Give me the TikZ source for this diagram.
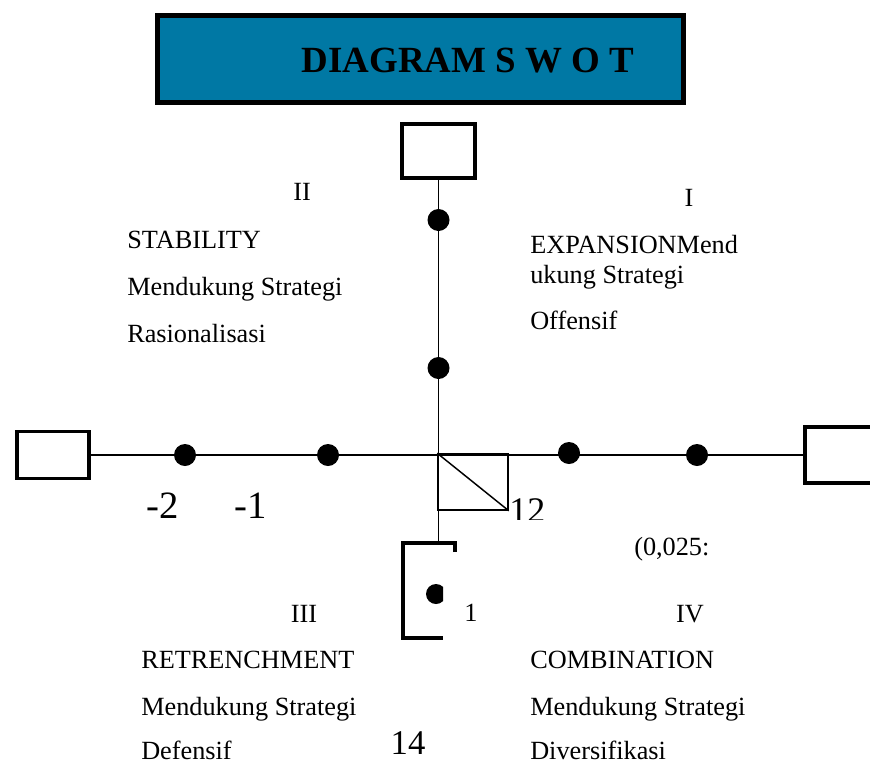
\documentclass[tikz,border=0pt]{standalone}
\usepackage{fontspec}
\setmainfont{Liberation Serif}
\definecolor{swotblue}{RGB}{0,120,164}
\begin{document}
\begin{tikzpicture}[x=0.75pt,y=-0.75pt]
    \tikzstyle{box} = [rectangle, draw, line width=2.6pt, inner sep=0pt]
    \tikzstyle{dot} = [circle, fill=black, minimum size=16.5pt, inner sep=0pt]
    \tikzstyle{txt} = [anchor=base west, inner sep=0pt, font=\fontsize{19.7}{24}\selectfont]
    \tikzstyle{quad} = [anchor=base, inner sep=0pt, font=\fontsize{19.7}{24}\selectfont]
    \tikzstyle{big} = [anchor=base, inner sep=0pt, font=\fontsize{29}{34}\selectfont]

    \useasboundingbox (0,0) rectangle (870,764);

      \draw
        (420.5, 59) node[box, fill=swotblue, line width=3.7pt, minimum width=394.5pt, minimum height=65.25pt] (title){}
        (468, 72) node[anchor=base, inner sep=0pt, font=\fontsize{27.7}{32}\selectfont\bfseries] (titletext){DIAGRAM S W O T}
        (438.5, 151) node[box, minimum width=54.75pt, minimum height=40.5pt] (top){}
        (53, 455) node[box, minimum width=54pt, minimum height=35.25pt] (left){}
        (845, 455) node[box, minimum width=60pt, minimum height=42pt] (right){}
        (473, 482) node[rectangle, draw, line width=1.1pt, minimum width=52.5pt, minimum height=42pt, inner sep=0pt] (sq){};
      \coordinate (bt) at (438.5, 543);

      \begin{scope}[line width=1.1pt]
        \draw (left) -- (right);
        \draw (top) -- (bt);
        \draw (sq.north west) -- (sq.south east);
      \end{scope}

      \draw
        (438.5, 220) node[dot] (v1){}
        (438.5, 368) node[dot] (v2){}
        (185, 455) node[dot] (h1){}
        (328, 455) node[dot] (h2){}
        (569, 453) node[dot] (h3){}
        (697, 455) node[dot] (h4){};

      % bracket below the axis
      \draw[line width=3pt] (455, 552) -- (455, 543) -- (403, 543) -- (403, 638) -- (443, 638);
      \begin{scope}
        \clip (420, 580) rectangle (443, 610);
        \fill (436, 594) circle (10);
      \end{scope}
      \begin{scope}
        \clip (500, 480) rectangle (560, 519);
        \node[anchor=base west, inner sep=0pt, font=\fontsize{27}{32}\selectfont] (n12) at (509, 522) {12};
      \end{scope}

      \draw
        (163, 518) node[big] (m2){-2}
        (251, 518) node[big] (m1){-1}
        (408, 754) node[big, font=\fontsize{26}{30}\selectfont] (n14){14}
        (471, 621) node[quad] (n1){1}
        (634, 555) node[txt] (coef){(0,025:}
        (302, 200) node[quad] (q2){II}
        (127, 248) node[txt] (q2a){STABILITY}
        (127, 295) node[txt] (q2b){Mendukung Strategi}
        (127, 342) node[txt] (q2c){Rasionalisasi}
        (689, 206) node[quad] (q1){I}
        (530, 253) node[txt] (q1a){EXPANSIONMend}
        (530, 283) node[txt] (q1b){ukung Strategi}
        (530, 329) node[txt] (q1c){Offensif}
        (304, 622) node[quad] (q3){III}
        (141, 668) node[txt] (q3a){RETRENCHMENT}
        (141, 715) node[txt] (q3b){Mendukung Strategi}
        (141, 759) node[txt] (q3c){Defensif}
        (690, 622) node[quad] (q4){IV}
        (530, 668) node[txt] (q4a){COMBINATION}
        (530, 715) node[txt] (q4b){Mendukung Strategi}
        (530, 759) node[txt] (q4c){Diversifikasi};
\end{tikzpicture}
\end{document}
